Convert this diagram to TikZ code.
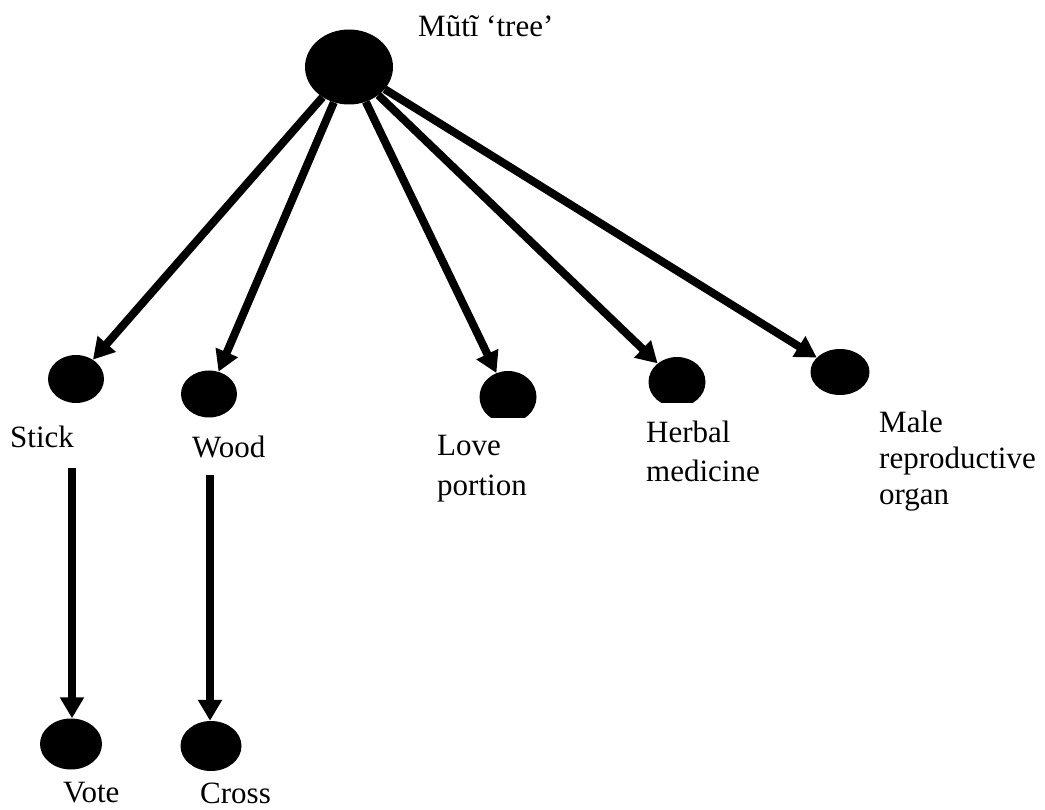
\documentclass[tikz,border=0pt]{standalone}
\usepackage{fontspec}
\setmainfont{Liberation Serif}
\usetikzlibrary{shapes.geometric,arrows.meta}

\tikzset{
  dot/.style={ellipse, fill=black, inner sep=0pt},
  hiddendot/.style={ellipse, inner sep=0pt},
  link/.style={line width=8pt, -{Triangle[length=21pt,width=23pt]}},
  lbl/.style={anchor=base west, inner sep=0pt, align=left,
              font=\fontsize{31}{#1}\selectfont},
  lbl/.default=38,
}

\begin{document}
\begin{tikzpicture}[x=1pt,y=-1pt]
  \useasboundingbox (0,0) rectangle (1045,810);

  % root and its senses
  \node[dot, minimum width=88pt, minimum height=75pt] (root) at (349,67) {};
  \node[dot, minimum width=56pt, minimum height=48pt] (stick) at (76,379) {};
  \node[dot, minimum width=56pt, minimum height=47pt] (wood) at (209,394) {};
  \node[hiddendot, minimum width=57pt, minimum height=52pt] (love) at (508,397) {};
  \node[hiddendot, minimum width=57pt, minimum height=50pt] (herbal) at (677,382) {};
  \node[dot, minimum width=59pt, minimum height=46pt] (male) at (840,372) {};
  \node[dot, minimum width=62pt, minimum height=51pt] (vote) at (71,744) {};
  \node[dot, minimum width=61pt, minimum height=50pt] (cross) at (211,746) {};

  % two dots with a flattened lower edge
  \begin{scope}
    \clip (400,300) rectangle (760,418);
    \fill (love.center) ellipse [x radius=28.5pt, y radius=26pt];
  \end{scope}
  \begin{scope}
    \clip (600,300) rectangle (760,403);
    \fill (herbal.center) ellipse [x radius=28.5pt, y radius=25pt];
  \end{scope}

  % labels (anchored at the baseline of their last line)
  \node[lbl] (tRoot) at (418,37) {Mũtĩ ‘tree’};
  \node[lbl] (tStick) at (10,448) {Stick};
  \node[lbl] (tWood) at (192,457) {Wood};
  \node[lbl=40] (tLove) at (437,495) {Love\\portion};
  \node[lbl=39] (tHerbal) at (646,481) {Herbal\\medicine};
  \node[lbl=36] (tMale) at (879,504) {Male\\reproductive\\organ};
  \node[lbl] (tVote) at (63,802) {Vote};
  \node[lbl] (tCross) at (200,803) {Cross};

  % arrows
  \draw[link] (root) -- (stick);
  \draw[link] (root) -- (wood);
  \draw[link] (root) -- (love);
  \draw[link] (root) -- (herbal);
  \draw[link] (root) -- (male);

  \coordinate (sFrom) at (72,468);
  \coordinate (wFrom) at (210,475);
  \draw[link] (sFrom) -- (sFrom |- vote.north);
  \draw[link] (wFrom) -- (wFrom |- cross.north);
\end{tikzpicture}
\end{document}
